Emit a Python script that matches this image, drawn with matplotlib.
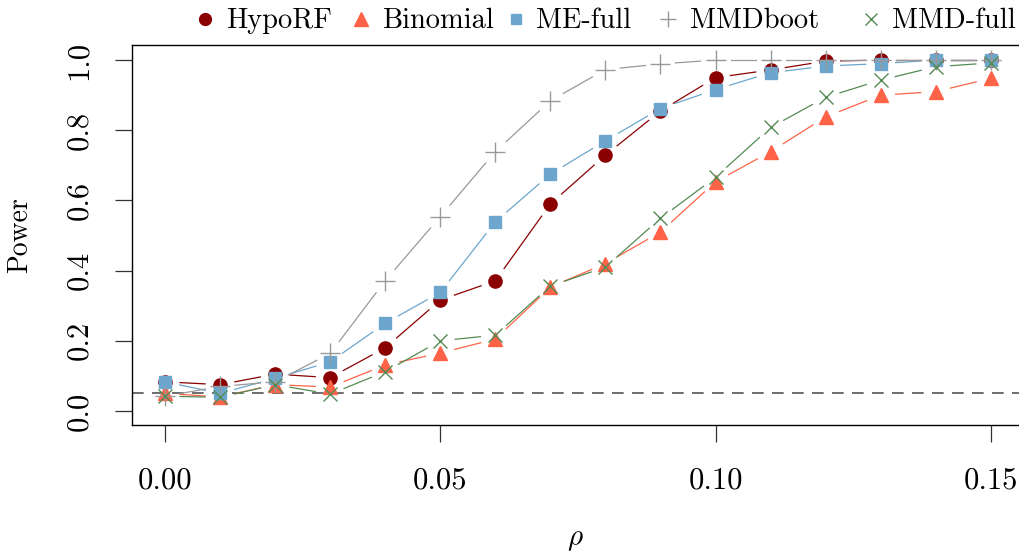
import numpy as np
import matplotlib
matplotlib.use("Agg")
import matplotlib.pyplot as plt
from matplotlib.lines import Line2D

plt.rcParams['font.family'] = ['cmr10']
plt.rcParams['mathtext.fontset'] = 'cm'
plt.rcParams['axes.formatter.use_mathtext'] = True

rho = [0.00, 0.01, 0.02, 0.03, 0.04, 0.05, 0.06, 0.07, 0.08, 0.09, 0.10, 0.11, 0.12, 0.13, 0.14, 0.15]
hyporf = [0.083, 0.075, 0.105, 0.095, 0.18, 0.316, 0.371, 0.59, 0.729, 0.855, 0.95, 0.972, 0.997, 1.0, 1.0, 1.0]
binomial = [0.05, 0.04, 0.075, 0.068, 0.131, 0.165, 0.205, 0.353, 0.42, 0.51, 0.653, 0.739, 0.838, 0.90, 0.91, 0.948]
me_full = [0.083, 0.05, 0.093, 0.14, 0.25, 0.338, 0.539, 0.675, 0.77, 0.862, 0.916, 0.964, 0.983, 0.99, 1.0, 1.0]
mmdboot = [0.042, 0.07, 0.083, 0.164, 0.371, 0.554, 0.739, 0.884, 0.973, 0.989, 1.0, 1.0, 1.0, 1.0, 1.0, 1.0]
mmd_full = [0.042, 0.039, 0.075, 0.048, 0.112, 0.2, 0.216, 0.356, 0.41, 0.549, 0.666, 0.808, 0.894, 0.943, 0.981, 0.992]
level = 0.05

series = [
    ("HypoRF", hyporf, "#8B0000", "o", 9.5, {}),
    ("Binomial", binomial, "#FF6347", "^", 10.5, {}),
    ("ME-full", me_full, "#6CA6CD", "s", 8.8, {}),
    ("MMDboot", mmdboot, "#999999", "+", 15, {"markeredgewidth": 1.0}),
    ("MMD-full", mmd_full, "#548B54", "x", 10, {"markeredgewidth": 1.0}),
]

W, H = 1019, 552
fig = plt.figure(figsize=(W/100, H/100), dpi=100)
ax = fig.add_axes([132/W, 127/H, 1.002 - 132/W, (425-45)/H])
ax.set_xlim(-0.006, 0.1555)
ax.set_ylim(-0.04, 1.043)

ax.axhline(level, color="#555555", lw=1.2, ls=(0, (7, 5)), zorder=1)

fig.canvas.draw()
gap = 15.0  # pixels
for name, vals, col, mk, ms, kw in series:
    pts = ax.transData.transform(np.column_stack([rho, vals]))
    inv = ax.transData.inverted()
    for i in range(len(pts) - 1):
        p0, p1 = pts[i], pts[i+1]
        d = p1 - p0
        L = np.hypot(*d)
        if L > 2*gap + 1:
            u = d / L
            a = inv.transform(p0 + u*gap)
            b = inv.transform(p1 - u*gap)
            ax.plot([a[0], b[0]], [a[1], b[1]], color=col, lw=0.9, zorder=2)
    ax.plot(rho, vals, ls="none", marker=mk, ms=ms, color=col, zorder=3, **kw)

ax.set_xticks([0.0, 0.05, 0.10, 0.15])
ax.set_xticklabels(["0.00", "0.05", "0.10", "0.15"])
ax.set_yticks([0.0, 0.2, 0.4, 0.6, 0.8, 1.0])
ax.set_yticklabels(["0.0", "0.2", "0.4", "0.6", "0.8", "1.0"], rotation=90, va="center")
ax.tick_params(axis="both", labelsize=22, length=12, width=0.9, direction="out", color="#333333")
ax.tick_params(axis="x", pad=18)
ax.tick_params(axis="y", pad=16)
for s in ax.spines.values():
    s.set_linewidth(1.0)

fig.text(20/W, 1 - 235/H, "Power", rotation=90, ha="center", va="center", fontsize=20)
fig.text(575/W, 1 - 540/H, r"$\rho$", ha="center", va="center", fontsize=21)

# manual legend row (R-style horizontal legend)
leg_marker_x = [205, 361, 516, 668, 871]
leg_text_x = [226, 382, 536, 690, 892]
leg_ms = [8.5, 9.5, 7.5, 12, 9]
for (name, vals, col, mk, ms, kw), mx, tx, lms in zip(series, leg_marker_x, leg_text_x, leg_ms):
    fig.add_artist(Line2D([mx/W], [1 - 19/H], transform=fig.transFigure, ls="none",
                          marker=mk, ms=lms, color=col, **kw))
    fig.text(tx/W, 1 - 28/H, name, ha="left", va="baseline", fontsize=20.5)

fig.savefig("out.png", dpi=100)
